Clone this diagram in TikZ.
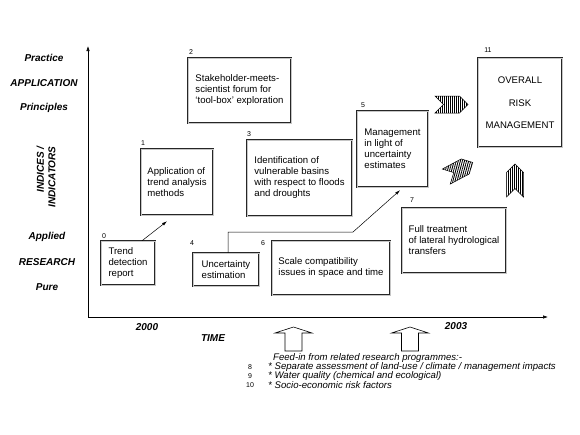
\documentclass[tikz,border=0pt]{standalone}
\usepackage{fontspec}
\setmainfont{Liberation Sans}
\usetikzlibrary{arrows.meta, positioning, shapes.symbols, patterns.meta}

\begin{document}
\begin{tikzpicture}[
  x=1pt, y=-1pt,
  every node/.style={font=\fontsize{9.6}{11}\selectfont},
  box/.style={draw=black!85, double=gray!45, double distance=1pt, line width=0.5pt, align=left, inner sep=0pt},
  num/.style={font=\fontsize{7}{8}\selectfont, inner sep=0pt},
  axislbl/.style={font=\fontsize{10}{11.5}\selectfont\bfseries\itshape, inner sep=0pt},
  chev/.style={signal, signal from=west, signal to=east, draw, line width=0.5pt,
    pattern={Lines[angle=90, distance=2pt, line width=0.9pt]},
    inner sep=0pt, minimum width=33pt, minimum height=17pt},
  feed/.style={font=\fontsize{9.6}{10}\selectfont\itshape, inner sep=0pt, anchor=west},
  feedarrow/.style={draw, line width=0.6pt, fill=white},
  link/.style={-{Latex[length=5pt, width=3pt]}, line width=0.5pt},
  axis/.style={-{Latex[length=5pt, width=3.5pt]}, line width=0.6pt}
]
  \useasboundingbox (0,0) rectangle (580,434);

  % axes
  \coordinate (o)    at (88,317);
  \coordinate (ytop) at (88,46);
  \coordinate (xend) at (548,317);
  \draw[axis] (o) -- (ytop);
  \draw[axis] (o) -- (xend);

  \node[axislbl] (prac) at (44,58)  {Practice};
  \node[axislbl] (appl) at (44,83)  {APPLICATION};
  \node[axislbl] (prin) at (44,108) {Principles};
  \node[axislbl, rotate=90, align=right] (ind) at (46,177) {INDICES /\\INDICATORS};
  \node[axislbl] (appd) at (47,237) {Applied};
  \node[axislbl] (res)  at (47,262) {RESEARCH};
  \node[axislbl] (pure) at (47,287) {Pure};

  \node[axislbl] (y00)  at (147,327) {2000};
  \node[axislbl] (time) at (213,338) {TIME};
  \node[axislbl] (y03)  at (456,326) {2003};

  % boxes
  \node[box, minimum width=54pt,  minimum height=44pt] (b0) at (128,263)
    {Trend\\detection\\report};
  \node[box, minimum width=72pt,  minimum height=66pt] (b1) at (177,182)
    {Application of\\trend analysis\\methods};
  \node[box, minimum width=103pt, minimum height=65pt] (b2) at (239.5,90.5)
    {Stakeholder-meets-\\scientist forum for\\`tool-box' exploration};
  \node[box, minimum width=105pt, minimum height=76pt] (b3) at (299.5,178)
    {Identification of\\vulnerable basins\\with respect to floods\\and droughts};
  \node[box, minimum width=66pt,  minimum height=33pt] (b4) at (226,269.5)
    {Uncertainty\\estimation};
  \node[box, minimum width=71pt,  minimum height=76pt] (b5) at (392.5,149)
    {Management\\in light of\\uncertainty\\estimates};
  \node[box, minimum width=118pt, minimum height=54pt] (b6) at (331,268)
    {Scale compatibility\\issues in space and time};
  \node[box, minimum width=104pt, minimum height=65pt] (b7) at (454,240.5)
    {Full treatment\\of lateral hydrological\\transfers};
  \node[box, minimum width=84pt,  minimum height=89pt, align=center] (b11) at (520,102.5)
    {OVERALL\\[12pt]RISK\\[11pt]MANAGEMENT};

  \node[num] (l0)  at (104,236) {0};
  \node[num] (l1)  at (143,143) {1};
  \node[num] (l2)  at (191,52)  {2};
  \node[num] (l3)  at (249,134) {3};
  \node[num] (l4)  at (192,243) {4};
  \node[num] (l5)  at (363,105) {5};
  \node[num] (l6)  at (263,243) {6};
  \node[num] (l7)  at (412,200) {7};
  \node[num] (l11) at (488,50)  {11};

  % links
  \coordinate (bend) at (353,232);
  \draw[link] ([xshift=14pt]b0.north) -- ([xshift=-10pt, yshift=-6pt]b1.south);
  \draw[link] ([xshift=2pt]b4.north) |- (bend) -- ([xshift=7.5pt, yshift=-3pt]b5.south);

  % chevrons towards 11
  \node[chev] (c1) at (451.5,104.5) {};
  \node[chev, rotate=28, minimum width=30pt,
    pattern={Lines[angle=75, distance=2pt, line width=0.9pt]}] (c2) at (459.5,169.5) {};
  \node[chev, rotate=90] (c3) at (515,180.5) {};

  % feed-in arrows
  \coordinate (f1) at (293.5,351);
  \coordinate (f2) at (410,351);
  \foreach \f in {f1,f2}
    \draw[feedarrow] (\f) ++(-8.5,0) -- ++(0,-18) -- ++(-10,0) -- ++(18.5,-6)
      -- ++(18.5,6) -- ++(-10,0) -- ++(0,18) -- cycle;

  \node[feed] (fin) at (273,358) {Feed-in from related research programmes:-};
  \node[num]  (n8)  at (250,367) {8};
  \node[feed] (t8)  at (268,367) {* Separate assessment of land-use / climate / management impacts};
  \node[num]  (n9)  at (250,376) {9};
  \node[feed] (t9)  at (268,376) {* Water quality (chemical and ecological)};
  \node[num]  (n10) at (250,385) {10};
  \node[feed] (t10) at (268,385) {* Socio-economic risk factors};
\end{tikzpicture}
\end{document}
